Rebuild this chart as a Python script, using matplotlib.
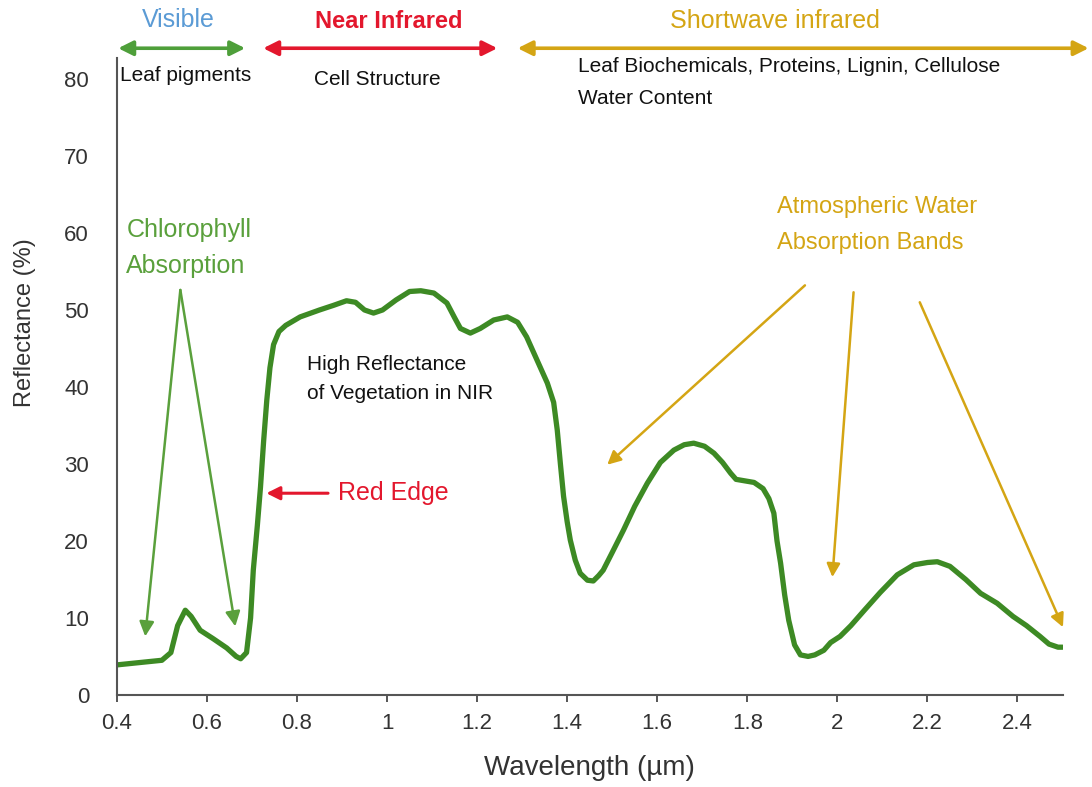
import matplotlib
matplotlib.use("Agg")
import matplotlib.pyplot as plt

plt.rcParams["font.family"] = ["Liberation Sans", "DejaVu Sans"]

# vegetation reflectance curve
wavelength = [0.40, 0.45, 0.50, 0.52, 0.535, 0.552, 0.565, 0.585, 0.614, 0.644,
              0.665, 0.675, 0.688, 0.697, 0.703, 0.712, 0.719, 0.726, 0.733, 0.740,
              0.748, 0.760, 0.775, 0.807, 0.85, 0.881, 0.91, 0.93, 0.95, 0.97,
              0.99, 1.02, 1.05, 1.075, 1.104, 1.133, 1.150, 1.163, 1.185, 1.207,
              1.237, 1.267, 1.29, 1.31, 1.333, 1.356, 1.370, 1.378, 1.385, 1.392,
              1.400, 1.407, 1.418, 1.429, 1.445, 1.458, 1.470, 1.48, 1.50, 1.525,
              1.55, 1.578, 1.607, 1.637, 1.66, 1.681, 1.705, 1.726, 1.745, 1.763,
              1.775, 1.795, 1.815, 1.835, 1.848, 1.859, 1.866, 1.874, 1.883, 1.892,
              1.905, 1.918, 1.935, 1.95, 1.97, 1.985, 2.006, 2.03, 2.06, 2.095,
              2.133, 2.17, 2.2, 2.222, 2.25, 2.285, 2.318, 2.355, 2.39, 2.42,
              2.45, 2.47, 2.49, 2.50]
reflectance = [3.9, 4.2, 4.5, 5.5, 9.0, 11.0, 10.2, 8.4, 7.3, 6.1,
               5.0, 4.7, 5.5, 10.0, 16.2, 22.0, 27.0, 33.0, 38.3, 42.5,
               45.5, 47.2, 48.0, 49.1, 50.0, 50.6, 51.2, 51.0, 50.0, 49.6,
               50.0, 51.3, 52.4, 52.5, 52.2, 50.9, 49.0, 47.6, 47.0, 47.6,
               48.7, 49.1, 48.4, 46.5, 43.5, 40.5, 38.0, 34.4, 30.0, 25.8,
               22.5, 20.1, 17.5, 15.8, 14.9, 14.8, 15.5, 16.2, 18.5, 21.4,
               24.5, 27.5, 30.2, 31.8, 32.5, 32.7, 32.3, 31.4, 30.2, 28.8,
               28.0, 27.8, 27.6, 26.8, 25.5, 23.6, 20.0, 17.1, 13.0, 9.7,
               6.5, 5.2, 5.0, 5.2, 5.8, 6.8, 7.6, 9.0, 11.0, 13.3,
               15.6, 16.9, 17.2, 17.3, 16.7, 15.0, 13.2, 11.9, 10.2, 9.0,
               7.6, 6.6, 6.2, 6.2]

x_ticks = [0.4, 0.6, 0.8, 1.0, 1.2, 1.4, 1.6, 1.8, 2.0, 2.2, 2.4]
x_tick_labels = ["0.4", "0.6", "0.8", "1", "1.2", "1.4", "1.6", "1.8", "2", "2.2", "2.4"]
y_ticks = [0, 10, 20, 30, 40, 50, 60, 70, 80]

# spectral regions: (start, end, arrow colour)
regions = [(0.403, 0.685, "#4e9f3a"),
           (0.725, 1.245, "#e3172d"),
           (1.290, 2.558, "#d4a514")]

CURVE = "#3d8a24"
CHL = "#5aa03c"
GOLD = "#d4a514"
RED = "#e3172d"
INK = "#111111"

fig = plt.figure(figsize=(10.92, 7.87), dpi=100)
ax = fig.add_axes([0.107, 0.117, 0.866, 0.809])
ax.plot(wavelength, reflectance, color=CURVE, lw=3.8, solid_capstyle="round",
        solid_joinstyle="round")

ax.set_xlim(0.4, 2.5)
ax.set_ylim(0, 82.7)
ax.set_xticks(x_ticks, x_tick_labels)
ax.set_yticks(y_ticks)
for s in ("top", "right"):
    ax.spines[s].set_visible(False)
for s in ("left", "bottom"):
    ax.spines[s].set_color("#555555")
    ax.spines[s].set_linewidth(1.5)
ax.tick_params(axis="x", length=5, width=1.4, color="#555555", pad=8,
               labelsize=16, labelcolor="#333333")
ax.tick_params(axis="y", length=0, pad=20, labelsize=16, labelcolor="#333333")
ax.set_xlabel("Wavelength (µm)", fontsize=20, color="#333333")
ax.xaxis.set_label_coords(0.5, -0.095)
ax.set_ylabel("Reflectance (%)", fontsize=17, color="#333333")
ax.yaxis.set_label_coords(-0.085, 0.585)

# region headers with double arrows
for x0, x1, acol in regions:
    ax.annotate("", xy=(x1, 84.0), xytext=(x0, 84.0), annotation_clip=False,
                arrowprops=dict(arrowstyle="<|-|>", color=acol, lw=2.6,
                                mutation_scale=22, shrinkA=0, shrinkB=0))
ax.text(0.536, 87.7, "Visible", color="#5b9bd5", fontsize=18, ha="center",
        va="center", clip_on=False)
ax.text(1.003, 87.5, "Near Infrared", color=RED, fontsize=17, ha="center",
        va="center", fontweight="bold", clip_on=False)
ax.text(1.861, 87.5, "Shortwave infrared", color=GOLD, fontsize=18, ha="center",
        va="center", clip_on=False)

ax.text(0.407, 80.4, "Leaf pigments", fontsize=15, va="center", color=INK)
ax.text(0.978, 80.0, "Cell Structure", fontsize=15, va="center", ha="center",
        color=INK)
ax.text(1.425, 81.6, "Leaf Biochemicals, Proteins, Lignin, Cellulose",
        fontsize=15, va="center", color=INK)
ax.text(1.425, 77.5, "Water Content", fontsize=15, va="center", color=INK)

# chlorophyll absorption
ax.text(0.421, 60.4, "Chlorophyll", color=CHL, fontsize=18, va="center")
ax.text(0.421, 55.7, "Absorption", color=CHL, fontsize=18, va="center")
for tip in [(0.463, 7.6), (0.663, 8.9)]:
    ax.annotate("", xy=tip, xytext=(0.541, 52.6),
                arrowprops=dict(arrowstyle="-|>", color=CHL, lw=1.8,
                                mutation_scale=22, shrinkA=0, shrinkB=0))

ax.text(0.823, 42.9, "High Reflectance", fontsize=15, va="center", color=INK)
ax.text(0.823, 39.2, "of Vegetation in NIR", fontsize=15, va="center", color=INK)

# red edge
ax.text(0.892, 26.2, "Red Edge", color=RED, fontsize=18, va="center")
ax.annotate("", xy=(0.732, 26.2), xytext=(0.869, 26.2),
            arrowprops=dict(arrowstyle="-|>", color=RED, lw=2.2,
                            mutation_scale=20, shrinkA=0, shrinkB=0))

# atmospheric water absorption
ax.text(1.865, 63.4, "Atmospheric Water", color=GOLD, fontsize=17, va="center")
ax.text(1.865, 58.7, "Absorption Bands", color=GOLD, fontsize=17, va="center")
water_arrows = [((1.928, 53.2), (1.489, 29.9)),
                ((2.036, 52.3), (1.989, 15.3)),
                ((2.183, 51.0), (2.501, 8.8))]
for start, tip in water_arrows:
    ax.annotate("", xy=tip, xytext=start, annotation_clip=False,
                arrowprops=dict(arrowstyle="-|>", color=GOLD, lw=1.8,
                                mutation_scale=20, shrinkA=0, shrinkB=0))

fig.savefig("out.png", dpi=100, facecolor="white")
